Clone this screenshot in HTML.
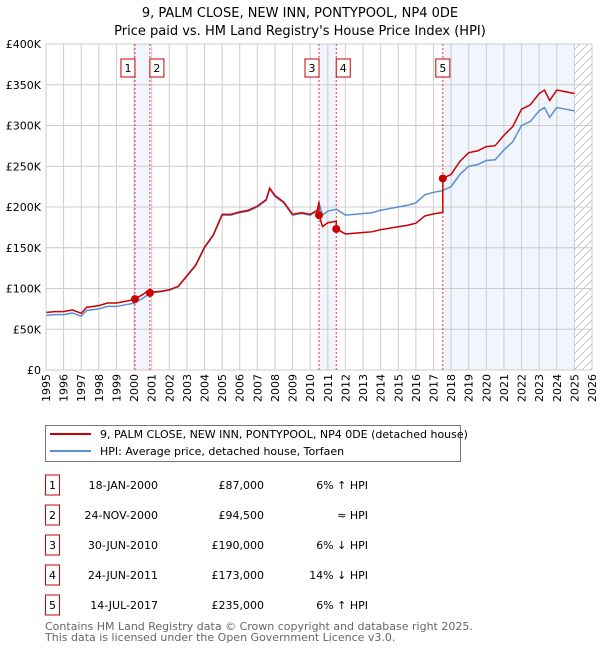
<!DOCTYPE html>
<html><head><meta charset="utf-8"><style>
body{margin:0;background:#fff;font-family:"Liberation Sans","DejaVu Sans",sans-serif;}
svg text{font-family:"DejaVu Sans","Liberation Sans",sans-serif;}
</style></head><body>
<svg id="chart" width="600" height="650" xmlns="http://www.w3.org/2000/svg">
<text x="300" y="17" text-anchor="middle" font-size="13">9, PALM CLOSE, NEW INN, PONTYPOOL, NP4 0DE</text>
<text x="300" y="35" text-anchor="middle" font-size="13">Price paid vs. HM Land Registry's House Price Index (HPI)</text>
<g id="plot"></g>
<g>
<rect x="45.5" y="425.5" width="415" height="36" fill="#fff" stroke="#777"/>
<line x1="50" y1="434" x2="91" y2="434" stroke="#cc0000" stroke-width="2"/>
<text x="100" y="438" font-size="11">9, PALM CLOSE, NEW INN, PONTYPOOL, NP4 0DE (detached house)</text>
<line x1="50" y1="451" x2="91" y2="451" stroke="#5b8fd4" stroke-width="2"/>
<text x="100" y="455" font-size="11">HPI: Average price, detached house, Torfaen</text>
</g>
<g id="table"></g>
<text x="45" y="630" font-size="11" fill="#666">Contains HM Land Registry data © Crown copyright and database right 2025.</text>
<text x="45" y="641" font-size="11" fill="#666">This data is licensed under the Open Government Licence v3.0.</text>
</svg>
<script>
const hpiYears=[1995,1995.5,1996,1996.5,1997,1997.3,1998,1998.5,1999,1999.5,2000,2000.5,2000.9,2001,2001.5,2002,2002.5,2003,2003.5,2004,2004.5,2005,2005.5,2006,2006.5,2007,2007.5,2007.7,2008,2008.5,2009,2009.5,2010,2010.4,2010.5,2010.7,2011,2011.5,2012,2012.5,2013,2013.5,2014,2014.5,2015,2015.5,2016,2016.5,2017,2017.5,2018,2018.5,2019,2019.5,2020,2020.5,2021,2021.5,2022,2022.5,2023,2023.3,2023.6,2024,2024.5,2025];
const hpiValues=[67,68,68,70,66,73,75,78,78,80,82,88,94,95,96,98,102,115,128,150,165,190,190,193,195,200,208,222,213,205,190,192,190,195,205,190,195,197,190,191,192,193,196,198,200,202,205,215,218,220,225,240,250,252,257,258,270,280,300,305,318,322,310,322,320,318];
const saleDates=[2000.05,2000.9,2010.5,2011.48,2017.53];
const salePrices=[87,94.5,190,173,235];
const saleLabels=["18-JAN-2000","24-NOV-2000","30-JUN-2010","24-JUN-2011","14-JUL-2017"];
const salePriceText=["£87,000","£94,500","£190,000","£173,000","£235,000"];
const saleHpiText=["6% ↑ HPI","≈ HPI","6% ↓ HPI","14% ↓ HPI","6% ↑ HPI"];
const yTicks=[0,50,100,150,200,250,300,350,400];

const NS="http://www.w3.org/2000/svg";
const X0=46,X1=592,Y0=370,Y1=44;
const x=t=>X0+(t-1995)/(2026-1995)*(X1-X0);
const y=v=>Y0-v/400*(Y0-Y1);
function mk(tag,attrs,parent){const e=document.createElementNS(NS,tag);for(const k in attrs)e.setAttribute(k,attrs[k]);parent.appendChild(e);return e;}
function hpiAt(t){for(let i=0;i<hpiYears.length-1;i++){if(t>=hpiYears[i]&&t<=hpiYears[i+1]){const f=(t-hpiYears[i])/(hpiYears[i+1]-hpiYears[i]);return hpiValues[i]+f*(hpiValues[i+1]-hpiValues[i]);}}return hpiValues[hpiValues.length-1];}
const plot=document.getElementById('plot');
// shading
const shades=[[saleDates[0],saleDates[1]],[saleDates[2],saleDates[3]],[saleDates[4],2025]];
shades.forEach(s=>{const r=mk('rect',{x:x(s[0]),y:Y1,width:x(s[1])-x(s[0]),height:Y0-Y1,fill:'#eef3fc',opacity:0.8},plot);

});
// hatch
const defs=mk('defs',{},plot);
const pat=mk('pattern',{id:'hatch',width:8,height:8,patternUnits:'userSpaceOnUse'},defs);
mk('path',{d:'M0,8 L8,0',stroke:'#bbb','stroke-width':0.8},pat);
const hr=mk('rect',{x:x(2025),y:Y1,width:X1-x(2025),height:Y0-Y1,fill:'url(#hatch)'},plot);


// grid
for(let yr=1995;yr<=2026;yr++){const l=mk('line',{x1:x(yr),x2:x(yr),y1:Y1,y2:Y0,stroke:'#ccc','stroke-width':1},plot);


const t=mk('text',{transform:`translate(${x(yr)+4},${Y0+4}) rotate(-90)`,'text-anchor':'end','font-size':11},plot);t.textContent=yr;

}
yTicks.forEach(v=>{const l=mk('line',{x1:X0,x2:X1,y1:y(v),y2:y(v),stroke:'#ccc','stroke-width':1},plot);


const t=mk('text',{x:X0-5,y:y(v)+4,'text-anchor':'end','font-size':11},plot);t.textContent=v===0?'£0':'£'+v+'K';

});
// vlines + markers
saleDates.forEach((d,i)=>{const l=mk('line',{x1:x(d),x2:x(d),y1:Y1,y2:Y0,stroke:'#e33','stroke-width':1,'stroke-dasharray':'2,2'},plot);

});
// HPI line
const hp=hpiYears.map((t,i)=>x(t)+','+y(hpiValues[i])).join(' ');
const hl=mk('polyline',{points:hp,fill:'none',stroke:'#5b8fd4','stroke-width':1.5},plot);


// Red line: HPI scaled to last sale
const pts=[];
const times=hpiYears.concat(saleDates).sort((a,b)=>a-b);
times.forEach(t=>{let k=0;for(let j=0;j<saleDates.length;j++)if(t>=saleDates[j])k=j;const r=salePrices[k]/hpiAt(saleDates[k]);pts.push(x(t)+','+y(hpiAt(t)*r));
if(saleDates.includes(t)&&saleDates.indexOf(t)>0){}});
// insert vertical jumps at sale dates
const rp=[];
times.forEach(t=>{let k=0;for(let j=0;j<saleDates.length;j++)if(t>=saleDates[j])k=j;
if(saleDates.includes(t)&&k>0){const r0=salePrices[k-1]/hpiAt(saleDates[k-1]);rp.push(x(t)+','+y(hpiAt(t)*r0));}
const r=salePrices[k]/hpiAt(saleDates[k]);rp.push(x(t)+','+y(hpiAt(t)*r));});
const rl=mk('polyline',{points:rp.join(' '),fill:'none',stroke:'#cc0000','stroke-width':1.5},plot);


saleDates.forEach((d,i)=>{const c=mk('circle',{cx:x(d),cy:y(salePrices[i]),r:4,fill:'#cc0000'},plot);


const off=(i===0||i===2)?-7:(i===1||i===3)?7:0;
const bx=x(d)+off-7;
const g=mk('g',{},plot);


mk('rect',{x:bx,y:59,width:14,height:18,fill:'#fff',stroke:'#cc0000'},g);
const t=mk('text',{x:bx+7,y:72,'text-anchor':'middle','font-size':11},g);t.textContent=i+1;});
mk('line',{x1:X0,x2:X0,y1:Y1,y2:Y0,stroke:'#ccc'},plot);
// table
const tb=document.getElementById('table');
saleDates.forEach((d,i)=>{const yy=483+i*30;
const g=mk('g',{},tb);


mk('rect',{x:45.5,y:yy-8,width:14,height:20,fill:'#fff',stroke:'#cc0000'},g);
let t=mk('text',{x:52.5,y:yy+6,'text-anchor':'middle','font-size':11},g);t.textContent=i+1;
t=mk('text',{x:158,y:yy+6,'text-anchor':'end','font-size':11},g);t.textContent=saleLabels[i];
t=mk('text',{x:264,y:yy+6,'text-anchor':'end','font-size':11},g);t.textContent=salePriceText[i];
t=mk('text',{x:368,y:yy+6,'text-anchor':'end','font-size':11},g);t.textContent=saleHpiText[i];});
</script>
</body></html>
